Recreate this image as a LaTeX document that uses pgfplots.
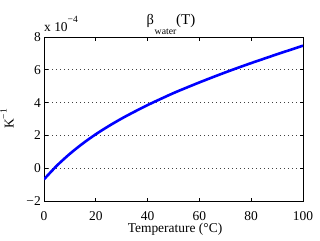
\documentclass[border=0pt]{standalone}
\usepackage{fontspec}
\setmainfont{Liberation Serif}
\usepackage{pgfplots}
\pgfplotsset{compat=1.18}
\begin{document}
\begin{tikzpicture}[font=\fontsize{13.5}{15}\selectfont]
\useasboundingbox (-44bp,-40bp) rectangle (276bp,201bp);
\begin{axis}[
  name=ax,
  at={(0,0)}, anchor=south west,
  width=259bp, height=164bp, scale only axis,
  xmin=0, xmax=100, ymin=-2, ymax=8,
  xtick={0,20,40,60,80,100},
  ytick={-2,0,2,4,6,8},
  yticklabels={−2,0,2,4,6,8},
  xticklabels={0,20,40,60,80,100},
  tick align=inside, major tick length=3.5bp,
  tick style={black, line width=0.7pt},
  axis line style={black, line width=0.9pt},
  ymajorgrids, grid style={black!75, line width=0.7pt, dash pattern=on 0.8bp off 3.2bp},
  xticklabel style={font=\fontsize{13.5}{15}\selectfont, anchor=base, inner sep=0pt, yshift=-19bp},
  yticklabel style={font=\fontsize{13.5}{15}\selectfont, anchor=east, inner sep=0pt, xshift=-3bp},
]
\addplot[blue, line width=2.6bp, smooth] coordinates {
(0,-0.68) (5,0.16) (10,0.88) (15,1.51) (20,2.07) (25,2.57) (30,3.03)
(35,3.45) (40,3.85) (45,4.22) (50,4.58) (55,4.91) (60,5.23) (65,5.54)
(70,5.84) (75,6.13) (80,6.41) (85,6.68) (90,6.95) (95,7.21) (100,7.47)
};
\end{axis}
% title beta_water(T)
\node[anchor=base west, inner sep=0pt, font=\fontsize{14.5}{16}\selectfont] at (102.5bp,176.7bp) {β};
\node[anchor=base west, inner sep=0pt, font=\fontsize{9.8}{10}\selectfont] at (110.5bp,166.7bp) {water};
\node[anchor=base west, inner sep=0pt, font=\fontsize{15}{16}\selectfont] at (132bp,176.7bp) {(T)};
\node[anchor=base west, inner sep=0pt] at ([yshift=6bp]ax.north west) {x 10\raisebox{8.5bp}{\fontsize{9.5}{10}\selectfont −4}};
\node[anchor=base, inner sep=0pt] at ([xshift=1.5bp,yshift=-31.5bp]ax.south) {Temperature (°C)};
\node[rotate=90, anchor=center, inner sep=0pt] at ([xshift=-37bp]ax.west) {K\raisebox{7bp}{\fontsize{9.5}{10}\selectfont −1}};
\end{tikzpicture}
\end{document}
